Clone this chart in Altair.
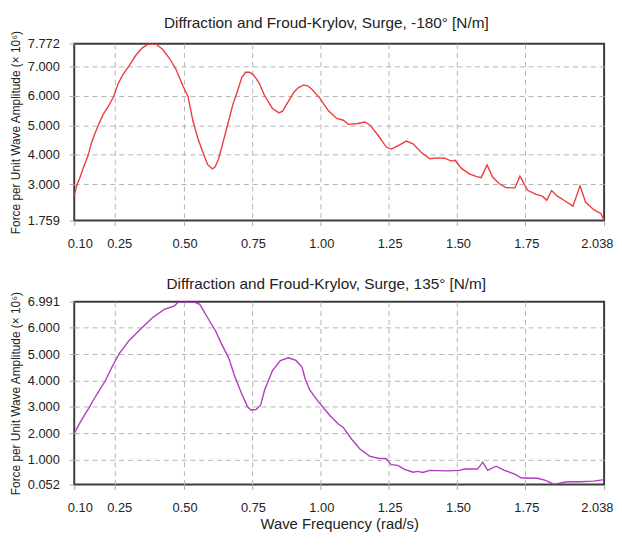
import altair as alt
import pandas as pd

# Top panel: heading -180 deg
freq_a = [0.100, 0.110, 0.120, 0.135, 0.150, 0.163, 0.175, 0.188, 0.205, 0.225,
          0.243, 0.260, 0.277, 0.294, 0.310, 0.324, 0.348, 0.372, 0.385, 0.400,
          0.423, 0.450, 0.472, 0.497, 0.516, 0.534, 0.552, 0.574, 0.588, 0.605,
          0.615, 0.627, 0.642, 0.662, 0.680, 0.696, 0.713, 0.727, 0.740, 0.753,
          0.775, 0.796, 0.825, 0.849, 0.862, 0.875, 0.904, 0.920, 0.940, 0.955,
          0.969, 0.998, 1.030, 1.060, 1.084, 1.103, 1.133, 1.163, 1.181, 1.212,
          1.242, 1.260, 1.285, 1.315, 1.339, 1.369, 1.400, 1.430, 1.455, 1.479,
          1.493, 1.515, 1.545, 1.570, 1.588, 1.610, 1.630, 1.655, 1.679, 1.712,
          1.730, 1.758, 1.789, 1.812, 1.828, 1.846, 1.867, 1.891, 1.924, 1.950,
          1.970, 2.000, 2.026, 2.038]
amp_a = [2.62, 2.98, 3.20, 3.60, 3.95, 4.40, 4.70, 5.00, 5.35, 5.65,
         5.95, 6.40, 6.70, 6.93, 7.15, 7.36, 7.62, 7.76, 7.77, 7.75,
         7.58, 7.25, 6.90, 6.35, 5.98, 5.15, 4.56, 4.00, 3.66, 3.52,
         3.58, 3.83, 4.34, 5.05, 5.70, 6.13, 6.63, 6.80, 6.80, 6.74,
         6.46, 6.01, 5.57, 5.42, 5.48, 5.68, 6.13, 6.28, 6.37, 6.33,
         6.22, 5.92, 5.49, 5.23, 5.17, 5.03, 5.05, 5.11, 5.01, 4.65,
         4.25, 4.19, 4.31, 4.46, 4.37, 4.08, 3.86, 3.89, 3.88, 3.78,
         3.81, 3.54, 3.35, 3.26, 3.22, 3.65, 3.24, 3.01, 2.88, 2.87,
         3.27, 2.79, 2.65, 2.59, 2.45, 2.78, 2.59, 2.45, 2.25, 2.94,
         2.39, 2.13, 2.00, 1.759]

# Bottom panel: heading 135 deg
freq_b = [0.100, 0.120, 0.142, 0.156, 0.170, 0.190, 0.214, 0.240, 0.264, 0.300,
          0.343, 0.386, 0.429, 0.465, 0.480, 0.500, 0.537, 0.559, 0.588, 0.617,
          0.639, 0.664, 0.688, 0.712, 0.734, 0.746, 0.765, 0.782, 0.796, 0.825,
          0.854, 0.883, 0.911, 0.933, 0.945, 0.962, 0.981, 1.005, 1.035, 1.066,
          1.084, 1.114, 1.144, 1.180, 1.211, 1.241, 1.259, 1.283, 1.308, 1.339,
          1.357, 1.375, 1.400, 1.430, 1.466, 1.509, 1.527, 1.575, 1.594, 1.612,
          1.643, 1.673, 1.709, 1.736, 1.794, 1.824, 1.855, 1.879, 1.903, 1.951,
          2.000, 2.038]
amp_b = [2.00, 2.38, 2.76, 3.00, 3.26, 3.60, 4.00, 4.55, 5.01, 5.51,
         5.95, 6.38, 6.70, 6.82, 6.97, 6.99, 6.98, 6.89, 6.38, 5.88,
         5.38, 4.88, 4.13, 3.51, 3.00, 2.88, 2.90, 3.07, 3.63, 4.38,
         4.76, 4.86, 4.76, 4.51, 4.05, 3.63, 3.36, 3.04, 2.67, 2.35,
         2.22, 1.78, 1.41, 1.13, 1.05, 1.03, 0.81, 0.78, 0.63, 0.52,
         0.55, 0.51, 0.59, 0.58, 0.57, 0.59, 0.64, 0.64, 0.90, 0.59,
         0.75, 0.59, 0.46, 0.30, 0.29, 0.21, 0.06, 0.11, 0.16, 0.16,
         0.18, 0.24]

x_ticks = [0.10, 0.25, 0.50, 0.75, 1.00, 1.25, 1.50, 1.75, 2.038]
y_ticks_a = [1.759, 3.0, 4.0, 5.0, 6.0, 7.0, 7.772]
y_ticks_b = [0.052, 1.0, 2.0, 3.0, 4.0, 5.0, 6.0, 6.991]

title_a = "Diffraction and Froud-Krylov, Surge, -180° [N/m]"
title_b = "Diffraction and Froud-Krylov, Surge,  135° [N/m]"
y_title = "Force per Unit Wave Amplitude (× 10⁶)"
x_title = "Wave Frequency  (rad/s)"

FONT = "Liberation Sans"


def panel(freq, amp, color, title, yticks, xtitle, toff, height):
    df = pd.DataFrame({"freq": freq, "amp": amp})
    ymin, ymax = yticks[0], yticks[-1]
    x_axis = alt.Axis(
        values=x_ticks,
        labelExpr="datum.value == 2.038 ? '2.038' : format(datum.value, '.2f')",
        labelFlush=True,
        labelFlushOffset=8,
        labelOffset={"condition": {"test": "datum.value == 0.25", "value": 4}, "value": 1},
        labelPadding=12,
        tickSize=5,
        gridOpacity={"condition": {"test": "datum.value <= 0.1 || datum.value >= 2.038", "value": 0}, "value": 1},
        titleFontSize=15,
        titlePadding=2,
    )
    y_axis = alt.Axis(
        values=yticks,
        format=".3f",
        labelPadding=10,
        tickSize=5,
        titleFontSize=12,
        titlePadding=5,
        gridOpacity={"condition": {"test": f"datum.value <= {ymin} || datum.value >= {ymax}", "value": 0}, "value": 1},
    )
    xenc = alt.X("freq:Q", scale=alt.Scale(domain=[0.1, 2.038], nice=False, zero=False), axis=x_axis)
    if xtitle:
        xenc = xenc.title(xtitle)
    else:
        xenc = xenc.title(None)
    return alt.Chart(df).mark_line(color=color, strokeWidth=1.4, clip=True).encode(
        x=xenc,
        y=alt.Y("amp:Q", scale=alt.Scale(domain=[ymin, ymax], nice=False, zero=False),
                axis=y_axis, title=y_title),
    ).properties(
        width=536, height=height,
        title=alt.TitleParams(title, offset=toff, dx=-13, frame="group"),
    )


top = panel(freq_a, amp_a, "#ee3c3c", title_a, y_ticks_a, None, -1, 179)
bottom = panel(freq_b, amp_b, "#b03dbd", title_b, y_ticks_b, x_title, -1, 185)

chart = alt.vconcat(top, bottom, spacing=24).properties(
    padding={"left": 0, "top": 3, "right": 0, "bottom": 3}
).configure_view(
    stroke="#3c3c3c", strokeWidth=2
).configure_axis(
    labelFont=FONT, labelFontSize=13, labelColor="#222",
    titleFont=FONT, titleFontWeight="normal", titleColor="#222",
    grid=True, gridColor="#b4b4b4", gridDash=[5, 4], gridWidth=1,
    domain=False, tickColor="#aaaaaa",
).configure_title(
    font=FONT, fontSize=15.5, fontWeight="normal", color="#222"
)

chart.save("out.html", embed_options={"renderer": "svg", "actions": False})
